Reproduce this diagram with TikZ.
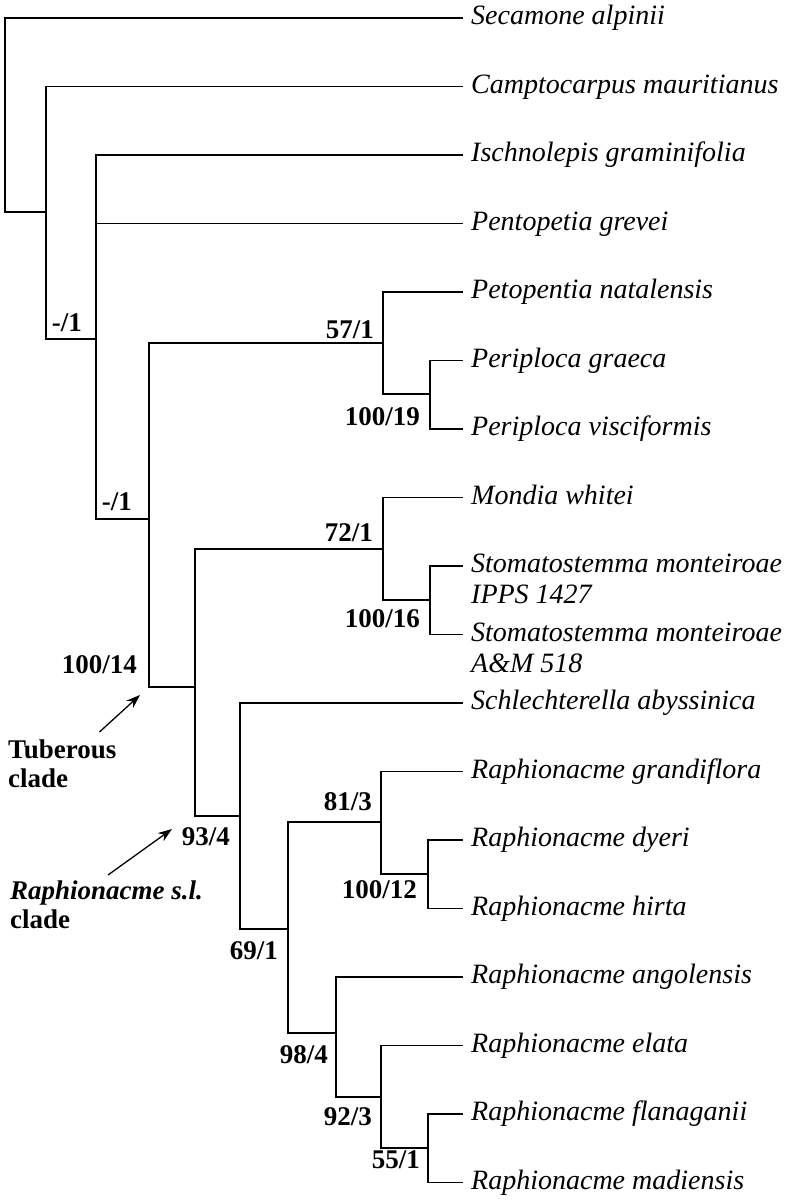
\documentclass[tikz,border=0pt]{standalone}
\usepackage{fontspec}
\setmainfont{Liberation Serif}
\usetikzlibrary{arrows.meta,positioning,calc}

\begin{document}
\begin{tikzpicture}[x=1pt,y=-1pt,
    branch/.style={line width=1.6pt},
    taxon/.style={anchor=west,inner xsep=8pt,inner ysep=4pt,text height=19pt,text depth=6pt,
      font=\fontsize{28}{30}\selectfont\itshape},
    support/.style={anchor=east,inner sep=0pt,font=\fontsize{27}{29}\selectfont\bfseries},
    cladelab/.style={anchor=north west,align=left,inner sep=0pt,
      font=\fontsize{27}{29}\selectfont\bfseries},
    cladearrow/.style={line width=1.3pt,-{Stealth[length=14pt,width=10pt]}}]
  \useasboundingbox (0,0) rectangle (800,1200);

  % taxa
  \foreach \i/\n/\t in {0/sec/Secamone alpinii,1/cam/Camptocarpus mauritianus,
      2/isc/Ischnolepis graminifolia,3/pen/Pentopetia grevei,
      4/pet/Petopentia natalensis,5/pgr/Periploca graeca,
      6/pvi/Periploca visciformis,7/mon/Mondia whitei,
      8/stA/Stomatostemma monteiroae,9/stB/Stomatostemma monteiroae,
      10/sch/Schlechterella abyssinica,11/rgr/Raphionacme grandiflora,
      12/rdy/Raphionacme dyeri,13/rhi/Raphionacme hirta,
      14/ran/Raphionacme angolensis,15/rel/Raphionacme elata,
      16/rfl/Raphionacme flanaganii,17/rma/Raphionacme madiensis}
    \node[taxon] (\n) at (463,18+68.5*\i) {\t};
  \node[taxon] (stAb) at ([yshift=-31pt]stA.west) {IPPS 1427};
  \node[taxon] (stBb) at ([yshift=-31pt]stB.west) {A\&M 518};

  % internal nodes
  \coordinate (root) at (5,115);
  \coordinate (nA) at (46,212);
  \coordinate (nB) at (96,339);
  \coordinate (nC) at (149,519);
  \coordinate (nE) at (383,343);
  \coordinate (nF) at (430,394);
  \coordinate (nD) at (195,687);
  \coordinate (nG) at (383,549);
  \coordinate (nH) at (430,600);
  \coordinate (nI) at (240,816);
  \coordinate (nJ) at (288,929);
  \coordinate (nK) at (381,822);
  \coordinate (nL) at (428,874);
  \coordinate (nM) at (336,1033);
  \coordinate (nN) at (381,1097);
  \coordinate (nO) at (428,1148);

  \foreach \p/\c in {root/sec,root/nA,nA/cam,nA/nB,nB/isc,nB/pen,nB/nC,
      nC/nE,nC/nD,nE/pet,nE/nF,nF/pgr,nF/pvi,nD/nG,nD/nI,nG/mon,nG/nH,
      nH/stA,nH/stB,nI/sch,nI/nJ,nJ/nK,nJ/nM,nK/rgr,nK/nL,nL/rdy,nL/rhi,
      nM/ran,nM/nN,nN/rel,nN/nO,nO/rfl,nO/rma}
    \draw[branch] (\p) |- (\c);

  % support values
  \foreach \x/\y/\t in {82/323/{-/1},132/502/{-/1},374/330/{57/1},
      420/417/{100/19},373/533/{72/1},420/619/{100/16},137/665/{100/14},
      230/837/{93/4},372/802/{81/3},417/890/{100/12},278/951/{69/1},
      328/1055/{98/4},372/1117/{92/3},420/1160/{55/1}}
    \node[support] at (\x,\y) {\t};

  % clades
  \node[cladelab] (tub) at (8,740) {Tuberous\\clade};
  \node[cladelab] (raph) at (10,881) {\textit{Raphionacme s.l.}\\clade};
  \coordinate (tubtip) at (140,695);
  \coordinate (raphtip) at (172,829);
  \draw[cladearrow] ([xshift=-17pt,yshift=8pt]tub.north east) -- (tubtip);
  \draw[cladearrow] ([xshift=98pt,yshift=6pt]raph.north west) -- (raphtip);
\end{tikzpicture}
\end{document}
